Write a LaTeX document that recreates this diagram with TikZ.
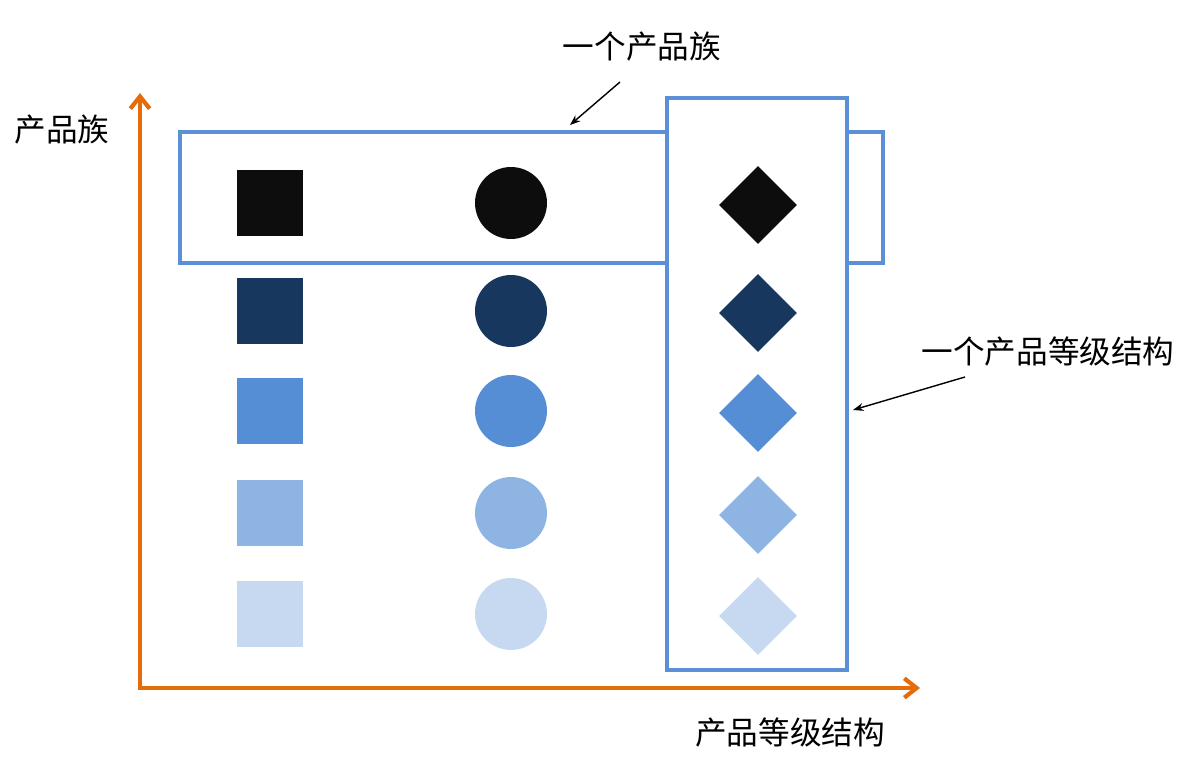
\documentclass[tikz,border=0pt]{standalone}
\usepackage{fontspec}
\newfontfamily\cjk{Noto Sans CJK SC}
\usetikzlibrary{arrows.meta,shapes.geometric}
\definecolor{ax}{HTML}{E46C0A}
\definecolor{bl}{HTML}{5B8FD6}
\definecolor{c1}{HTML}{0D0D0D}
\definecolor{c2}{HTML}{17375E}
\definecolor{c3}{HTML}{558ED5}
\definecolor{c4}{HTML}{8EB4E3}
\definecolor{c5}{HTML}{C6D9F1}
\begin{document}
\begin{tikzpicture}[x=0.02cm,y=-0.02cm,
  lbl/.style={font=\cjk\fontsize{18}{21}\selectfont,inner sep=0pt},
  axis/.style={ax,line width=2.4pt,-{Straight Barb[length=7pt,width=11pt]}},
  frame/.style={bl,line width=2.2pt},
  sq/.style={rectangle,minimum size=1.32cm,inner sep=0pt},
  ci/.style={circle,minimum size=1.44cm,inner sep=0pt},
  di/.style={diamond,minimum size=1.56cm,inner sep=0pt},
  note/.style={-{Stealth[length=6pt]},line width=0.8pt}]
\useasboundingbox (0,0) rectangle (1201,760);
\coordinate (o) at (140,688);
\coordinate (yt) at (140,93);
\coordinate (xt) at (920,688);
\draw[axis] (o) -- (yt);
\draw[axis] ([xshift=-1pt]o) -- (xt);
\draw[frame] (180,132) rectangle (883,263);
\draw[frame,fill=white] (667,98) rectangle (847,670);
\foreach \c [count=\i] in {c1,c2,c3,c4,c5}{
  \pgfmathsetmacro\yy{{203,311,411,513,614}[\i-1]}
  \node[sq,fill=\c] (s\i) at (270,\yy) {};
  \node[ci,fill=\c] (k\i) at (511,\yy) {};
  \node[di,fill=\c] (d\i) at (758,\yy+2) {};
}
\node[lbl] (l1) at (62,130) {产品族};
\node[lbl] (l2) at (642,47) {一个产品族};
\node[lbl] (l3) at (1048,352) {一个产品等级结构};
\node[lbl] (l4) at (790,733) {产品等级结构};
\coordinate (a1) at (570,125);
\coordinate (a2) at (853,410);
\draw[note] (620,82) -- (a1);
\draw[note] (965,377) -- (a2);
\end{tikzpicture}
\end{document}
